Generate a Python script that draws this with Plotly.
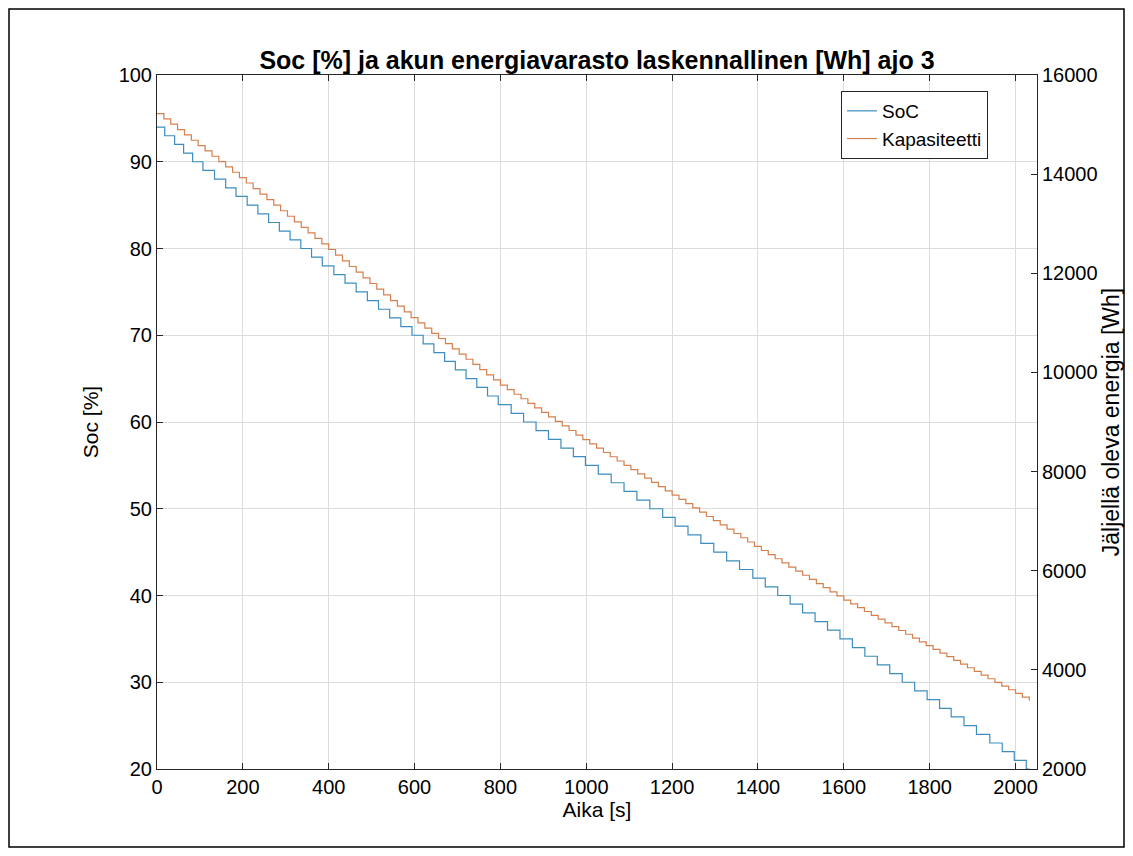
import plotly.graph_objects as go

# ---------------- data ----------------
# SoC: level (%) and the times (s) at which each level begins
soc_t = [0,
         18, 41, 62, 83, 107, 134, 160, 184,
         210, 235, 260, 285, 310, 335, 360, 385,
         412, 438, 464, 490, 516, 542, 568, 594,
         620, 645, 670, 695, 720, 745, 770, 795,
         825, 854, 883, 912, 941, 970, 998,
         1028, 1058, 1088, 1118, 1148, 1178,
         1207, 1237, 1267, 1297, 1327, 1357, 1388,
         1417, 1446, 1475, 1504, 1533, 1562, 1591,
         1620, 1649, 1678, 1707, 1736, 1765, 1794,
         1823, 1850, 1880, 1909, 1940, 1969, 1997, 2025,
         2033]
soc_vals = [94,
            93, 92, 91, 90, 89, 88, 87, 86,
            85, 84, 83, 82, 81, 80, 79, 78,
            77, 76, 75, 74, 73, 72, 71, 70,
            69, 68, 67, 66, 65, 64, 63, 62,
            61, 60, 59, 58, 57, 56, 55,
            54, 53, 52, 51, 50, 49,
            48, 47, 46, 45, 44, 43, 42,
            41, 40, 39, 38, 37, 36, 35,
            34, 33, 32, 31, 30, 29, 28,
            27, 26, 25, 24, 23, 22, 21, 20,
            20]

# Kapasiteetti: remaining energy (Wh) at each step time (s)
kap_t = [0, 16, 32, 48, 64, 80, 96, 112, 128, 144, 160, 176, 192,
         208, 224, 240, 256, 272, 288, 304, 320, 336, 352, 368, 384, 400,
         416, 432, 448, 464, 480, 496, 512, 528, 544, 560, 576, 592,
         608, 624, 640, 656, 672, 688, 704, 720, 736, 752, 768, 784, 800,
         816, 832, 848, 864, 880, 896, 912, 928, 944, 960, 976, 992,
         1008, 1024, 1040, 1056, 1072, 1088, 1104, 1120, 1136, 1152, 1168, 1184, 1200,
         1216, 1232, 1248, 1264, 1280, 1296, 1312, 1328, 1344, 1360, 1376, 1392,
         1408, 1424, 1440, 1456, 1472, 1488, 1504, 1520, 1536, 1552, 1568, 1584, 1600,
         1616, 1632, 1648, 1664, 1680, 1696, 1712, 1728, 1744, 1760, 1776, 1792,
         1808, 1824, 1840, 1856, 1872, 1888, 1904, 1920, 1936, 1952, 1968, 1984, 2000,
         2016, 2032]
kap_vals = [15222, 15114, 15007, 14899, 14792, 14684, 14576, 14469, 14361, 14254, 14146, 14038, 13931,
            13821, 13709, 13598, 13486, 13374, 13262, 13151, 13039, 12927, 12815, 12703, 12592, 12480,
            12366, 12251, 12137, 12022, 11908, 11794, 11679, 11565, 11450, 11336, 11222, 11107,
            10998, 10893, 10789, 10684, 10580, 10475, 10371, 10266, 10161, 10057, 9952, 9848, 9743,
            9652, 9560, 9469, 9377, 9286, 9195, 9103, 9012, 8920, 8829, 8737, 8646,
            8557, 8471, 8385, 8299, 8213, 8127, 8041, 7955, 7868, 7782, 7696, 7610, 7524,
            7438, 7352, 7266, 7180, 7094, 7009, 6923, 6837, 6751, 6665, 6579, 6493,
            6408, 6325, 6241, 6158, 6074, 5991, 5908, 5824, 5741, 5658, 5574, 5491, 5407,
            5330, 5254, 5177, 5101, 5024, 4948, 4871, 4794, 4718, 4641, 4565, 4488,
            4413, 4339, 4265, 4191, 4117, 4043, 3969, 3895, 3821, 3747, 3673, 3599, 3525,
            3451, 3377]

x_ticks = [0, 200, 400, 600, 800, 1000, 1200, 1400, 1600, 1800, 2000]
soc_ticks = [20, 30, 40, 50, 60, 70, 80, 90, 100]
kap_ticks = [2000, 4000, 6000, 8000, 10000, 12000, 14000, 16000]

title_text = "Soc [%] ja akun energiavarasto laskennallinen [Wh] ajo 3"

# ---------------- figure ----------------
FONT = "Liberation Sans, Arial, Helvetica, sans-serif"
AX = "#262626"
GRID = "#dcdcdc"

W, H = 1117, 840
ML, MR, MT, MB = 149, 88, 67, 79
PW, PH = W - ML - MR, H - MT - MB

fig = go.Figure()
fig.add_trace(go.Scatter(x=soc_t, y=soc_vals, mode="lines", name="SoC",
                         line=dict(color="#3d8dbf", width=1.2, shape="hv")))
fig.add_trace(go.Scatter(x=kap_t, y=kap_vals, mode="lines", name="Kapasiteetti",
                         line=dict(color="#d5804d", width=1.2, shape="hv"),
                         yaxis="y2"))

fig.update_layout(
    width=W, height=H,
    margin=dict(l=ML, r=MR, t=MT, b=MB, autoexpand=False),
    paper_bgcolor="white", plot_bgcolor="white",
    font=dict(family=FONT, size=20, color="#000000"),
    title=dict(text=title_text, x=0.5, xref="paper", y=1 - 52 / H,
               yanchor="middle", font=dict(size=25, weight="bold", color="#000000")),
    showlegend=True,
    legend=dict(x=(841 - 157) / PW, y=1 - (91 - 75) / PH, xanchor="left", yanchor="top",
                bgcolor="white", bordercolor="#262626", borderwidth=1,
                font=dict(size=19), tracegroupgap=0),
    xaxis=dict(range=[0, 2050], tickvals=x_ticks, ticktext=[str(v) for v in x_ticks],
               ticks="inside", ticklen=6, tickcolor=AX, showline=True, linecolor=AX,
               linewidth=1, mirror="ticks", showgrid=True, gridcolor=GRID, gridwidth=1,
               zeroline=False, title=dict(text="Aika [s]", font=dict(size=21), standoff=4),
               tickfont=dict(size=20)),
    yaxis=dict(range=[20, 100], tickvals=soc_ticks, ticktext=[str(v) for v in soc_ticks],
               ticks="inside", ticklen=6, tickcolor=AX, showline=True, linecolor=AX,
               linewidth=1, mirror=False, showgrid=True, gridcolor=GRID, gridwidth=1,
               zeroline=False, title=dict(text="Soc [%]", font=dict(size=21), standoff=14),
               tickfont=dict(size=20)),
    yaxis2=dict(range=[2000, 16000], tickvals=kap_ticks, ticktext=[str(v) for v in kap_ticks],
                overlaying="y", side="right", anchor="x",
                ticks="inside", ticklen=6, tickcolor=AX, showline=True, linecolor=AX,
                linewidth=1, showgrid=False, zeroline=False,
                title=dict(text="Jäljellä oleva energia [Wh]", font=dict(size=23), standoff=6),
                tickfont=dict(size=20)),
)

# outer frame around the whole picture
fig.add_shape(type="rect", xref="paper", yref="paper",
              x0=-(ML - 1) / PW, x1=1 + (MR - 1) / PW,
              y0=-(MB - 1) / PH, y1=1 + (MT - 1) / PH,
              line=dict(color="black", width=1.5), layer="below")

fig.write_html("out.html")
